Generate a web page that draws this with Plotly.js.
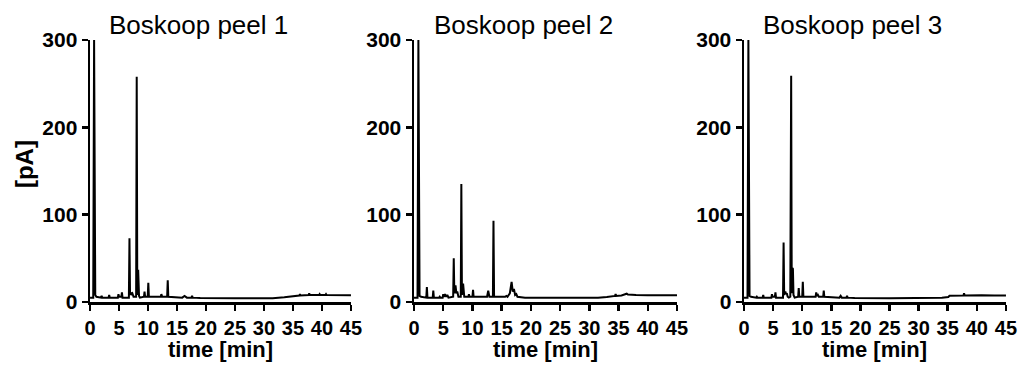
<!DOCTYPE html>
<html>
<head>
<meta charset="utf-8">
<script src="https://cdn.plot.ly/plotly-3.0.1.min.js"></script>
<style>html,body{margin:0;padding:0;background:#fff;}#chart{width:1022px;height:367px;}</style>
</head>
<body>
<div id="chart"></div>
<script>
// Chromatogram data (time in min, signal in pA)
const panelTitles = ["Boskoop peel 1", "Boskoop peel 2", "Boskoop peel 3"];
const xTitle = "time [min]";
const yTitle = "[pA]";
const xTickVals = [0, 5, 10, 15, 20, 25, 30, 35, 40, 45];
const yTickVals = [0, 100, 200, 300];

const t1 = [
  0, 0.55, 0.7, 0.8, 0.9, 1.1,
  1.9, 2.0, 2.1,
  3.2, 3.3, 3.4,
  4.8, 4.9, 5.0,
  5.4, 5.5, 5.6,
  6.7, 6.8, 6.9, 7.0, 7.15, 7.3, 7.5,
  7.95, 8.05, 8.15, 8.3, 8.45, 8.6,
  9.3, 9.4, 9.5,
  9.95, 10.05, 10.15,
  12.2, 12.3, 12.45,
  13.3, 13.4, 13.5,
  15.9, 16.3, 16.7,
  17.5, 17.6, 17.7,
  19, 25, 31.5, 33.5, 35, 36,
  36.1, 36.2, 36.3,
  37.7, 37.8, 37.9,
  39.5, 39.6, 39.7,
  40.6, 40.7, 40.8,
  43, 45
];
const v1 = [
  5, 5, 300, 18, 8, 6,
  5, 7, 5,
  5, 8, 5,
  5, 9, 6,
  6, 11, 5,
  5, 73, 8, 11, 9, 10, 6,
  6, 258, 8, 37, 7, 5,
  6, 12, 6,
  6, 22, 6,
  6, 9, 6,
  6, 25, 6,
  5, 7, 5,
  5, 7, 5,
  4.5, 4.3, 4.3, 5.5, 7, 7.5,
  7.5, 9, 7.5,
  8, 10, 8,
  8, 9, 8,
  8, 9, 8,
  7.8, 7.8
];

const t2 = [
  0, 0.6, 0.75, 0.85, 0.95, 1.2,
  2.1, 2.2, 2.3,
  3.2, 3.3, 3.4,
  4.3, 4.4, 4.5,
  4.9, 5.0, 5.1, 5.3, 5.5, 5.7, 5.9,
  6.7, 6.8, 6.9, 7.1, 7.25, 7.4, 7.6,
  8.0, 8.1, 8.2, 8.4, 8.6,
  9.3, 9.4, 9.5,
  10.0, 10.1, 10.2,
  12.5, 12.7, 12.9,
  13.5, 13.6, 13.7,
  15.6, 15.8, 16.0, 16.4, 16.7, 16.9, 17.1, 17.3, 17.5, 17.7,
  19, 25, 31.5, 33, 34.3,
  34.4, 34.5, 34.6,
  35.5, 36.2, 36.4, 36.6, 37.2,
  38, 40, 42, 45
];
const v2 = [
  5, 5, 300, 15, 7, 6,
  5, 17, 5,
  5, 13, 5,
  5, 6, 5,
  5, 9, 6, 9, 6, 8, 5,
  6, 50, 10, 19, 10, 12, 6,
  6, 135, 8, 21, 6,
  6, 9, 6,
  6, 14, 6,
  6, 13, 6,
  6, 93, 6,
  6, 7, 6, 10, 23, 12, 15, 8, 9, 6,
  5, 4.8, 4.8, 5.8, 6.5,
  7, 9, 7,
  7.5, 9, 9.5, 8.5, 8,
  8, 7.8, 7.8, 7.8
];

const t3 = [
  0, 0.6, 0.75, 0.85, 0.95, 1.2,
  2.1, 2.2, 2.3,
  3.2, 3.3, 3.4,
  4.7, 4.8, 4.9,
  5.3, 5.4, 5.5,
  6.7, 6.8, 6.9, 7.1, 7.2, 7.35, 7.5, 7.7,
  7.95, 8.1, 8.2, 8.3, 8.4, 8.5, 8.7,
  9.3, 9.4, 9.5,
  10.0, 10.1, 10.2,
  12.3, 12.4, 12.55, 12.7, 12.85,
  13.6, 13.7, 13.8,
  16.4, 16.6, 16.8,
  17.6, 17.7, 17.8,
  19, 25, 31.5, 34, 35.1, 35.3,
  37.7, 37.8, 37.9,
  40.6, 40.7, 40.8,
  43, 45
];
const v3 = [
  5, 5, 300, 18, 7, 6,
  5, 6, 5,
  5, 8, 5,
  5, 9, 6,
  6, 11, 5,
  5, 68, 8, 12, 9, 10, 6, 5,
  6, 259, 10, 39, 38, 8, 5,
  6, 16, 6,
  6, 23, 6,
  6, 11, 7, 8, 6,
  6, 13, 6,
  5, 7, 5,
  5, 7, 5,
  4.5, 4.3, 4.3, 5, 5.8, 7.2,
  7.5, 10, 7.5,
  7.8, 8.5, 7.8,
  7.5, 7.5
];

const times = [t1, t2, t3];
const signals = [v1, v2, v3];

const FONT = "Arial, 'Liberation Sans', sans-serif";
const xDomains = [[0.0881, 0.3434], [0.4051, 0.6624], [0.728, 0.9843]];
const yDomain = [0.1771, 0.891];

const traces = times.map((t, i) => ({
  x: t, y: signals[i],
  type: 'scatter', mode: 'lines',
  line: {color: '#000', width: 2},
  xaxis: i === 0 ? 'x' : 'x' + (i + 1),
  yaxis: i === 0 ? 'y' : 'y' + (i + 1),
  hoverinfo: 'skip', showlegend: false
}));

const layout = {
  width: 1022, height: 367,
  margin: {l: 0, r: 0, t: 0, b: 0},
  paper_bgcolor: '#fff', plot_bgcolor: '#fff',
  showlegend: false,
  font: {family: FONT, color: '#000'},
  annotations: []
};

for (let i = 0; i < 3; i++) {
  const sx = i === 0 ? '' : String(i + 1);
  layout['xaxis' + sx] = {
    domain: xDomains[i], anchor: 'y' + sx,
    range: [0, 45], tickvals: xTickVals, ticktext: xTickVals.map(String),
    showline: true, linecolor: '#000', linewidth: 2.5,
    ticks: 'outside', ticklen: 6, tickwidth: 2.5, tickcolor: '#000',
    showgrid: false, zeroline: false, automargin: false,
    tickfont: {family: FONT, size: 20, weight: 700, color: '#000'}
  };
  layout['yaxis' + sx] = {
    domain: yDomain, anchor: 'x' + sx,
    range: [0, 300], tickvals: yTickVals, ticktext: yTickVals.map(String),
    showline: true, linecolor: '#000', linewidth: 2.5,
    ticks: 'outside', ticklen: 6, tickwidth: 2.5, tickcolor: '#000',
    showgrid: false, zeroline: false, automargin: false,
    tickfont: {family: FONT, size: 21, weight: 700, color: '#000'}
  };
  layout.annotations.push({
    text: panelTitles[i], xref: 'x' + sx + ' domain', yref: 'paper',
    x: 0.415, y: 0.932, xanchor: 'center', yanchor: 'middle',
    showarrow: false, font: {family: FONT, size: 26, color: '#000'}
  });
  layout.annotations.push({
    text: xTitle, xref: 'x' + sx + ' domain', yref: 'paper',
    x: 0.5, y: 0.048, xanchor: 'center', yanchor: 'middle',
    showarrow: false, font: {family: FONT, size: 22, weight: 700, color: '#000'}
  });
}
layout.annotations.push({
  text: yTitle, xref: 'paper', yref: 'paper', x: 0.0235, y: 0.553,
  xanchor: 'center', yanchor: 'middle', textangle: -90, showarrow: false,
  font: {family: FONT, size: 24, weight: 700, color: '#000'}
});

Plotly.newPlot('chart', traces, layout, {staticPlot: true, displayModeBar: false});
</script>
</body>
</html>
